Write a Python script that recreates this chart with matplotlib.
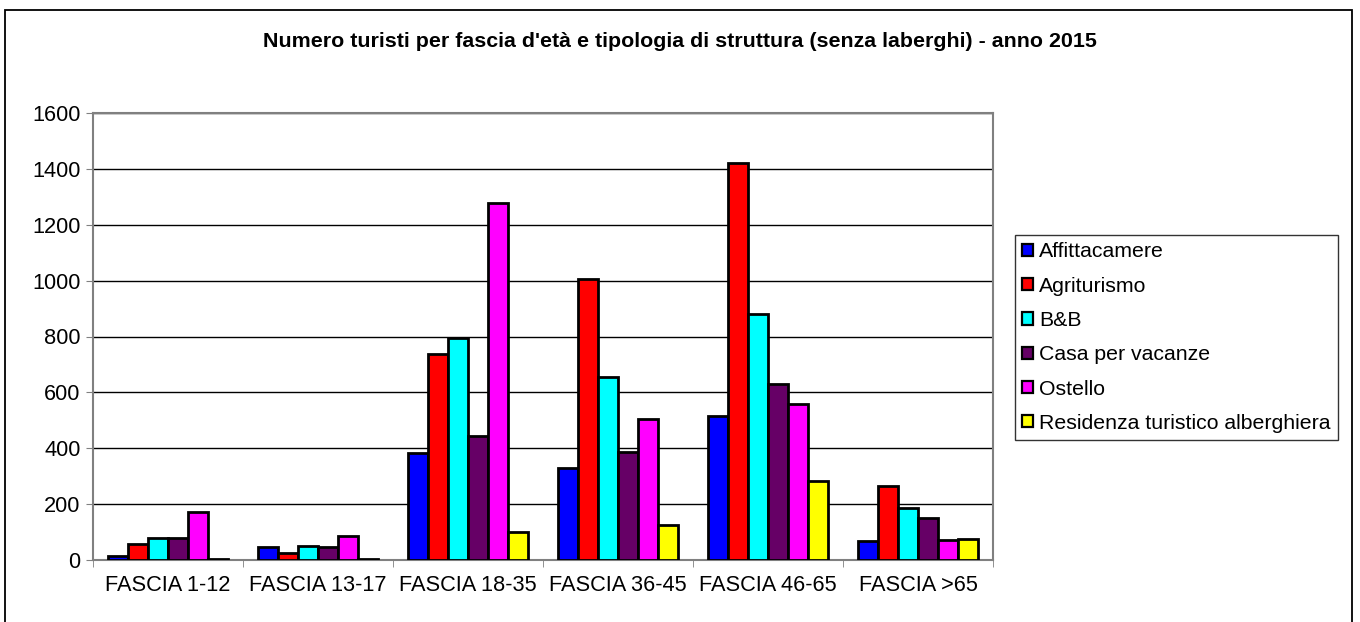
import numpy as np
import matplotlib.pyplot as plt
from matplotlib.patches import Rectangle

plt.rcParams['font.family'] = ['Liberation Sans', 'DejaVu Sans']

# Categories and series values
categories = ['FASCIA 1-12', 'FASCIA 13-17', 'FASCIA 18-35',
              'FASCIA 36-45', 'FASCIA 46-65', 'FASCIA >65']
series_names = ['Affittacamere', 'Agriturismo', 'B&B', 'Casa per vacanze',
                'Ostello', 'Residenza turistico alberghiera']
affittacamere = [14, 45, 384, 330, 515, 69]
agriturismo = [56, 24, 736, 1005, 1422, 265]
bb = [80, 50, 794, 654, 879, 186]
casa_vacanze = [77, 45, 444, 387, 629, 149]
ostello = [172, 87, 1277, 504, 558, 71]
residenza = [2, 3, 101, 127, 282, 76]
colors = ['#0000ff', '#ff0000', '#00ffff', '#660066', '#ff00ff', '#ffff00']

W, H = 1360, 622
fig = plt.figure(figsize=(W / 100, H / 100), dpi=100)

# outer chart border
fig.patches.append(Rectangle((5 / W, -0.01), 1347 / W, (H - 10) / H + 0.01,
                             transform=fig.transFigure, fill=False,
                             edgecolor='black', linewidth=1.3))

ax = fig.add_axes([93 / W, (H - 560) / H, 900 / W, 447 / H])

all_series = [affittacamere, agriturismo, bb, casa_vacanze, ostello, residenza]
x = np.arange(len(categories))
bw = 0.8 / len(all_series)
for i, (name, vals) in enumerate(zip(series_names, all_series)):
    ax.bar(x - 0.4 + bw * (i + 0.5), vals, width=bw, color=colors[i],
           edgecolor='black', linewidth=2, label=name, zorder=3)

ax.set_xlim(-0.5, len(categories) - 0.5)
ax.set_ylim(0, 1600)
ax.set_yticks(range(0, 1601, 200))
ax.yaxis.grid(True, color='black', linewidth=1, zorder=0)
ax.set_xticks(x)
ax.set_xticklabels(categories, fontsize=15.7)
ax.set_xticks(np.arange(-0.5, len(categories)), minor=True)
ax.tick_params(axis='x', which='major', length=0, pad=11)
ax.tick_params(axis='x', which='minor', length=5, direction='out', color='#808080')
ax.tick_params(axis='y', labelsize=15.7, length=5, direction='out', color='#808080', pad=4)
for s in ax.spines.values():
    s.set_color('#808080')
    s.set_linewidth(1.5)

fig.text(680 / W, 1 - 47 / H, "Numero turisti per fascia d'età e tipologia di struttura (senza laberghi) - anno 2015",
         ha='center', va='baseline', fontsize=15.4, fontweight='bold')

leg = ax.legend(loc='upper left', bbox_to_anchor=(1015 / W, 1 - 235 / H, 330 / W, 0.0),
                bbox_transform=fig.transFigure, fontsize=15.3, frameon=True,
                fancybox=False, edgecolor='black', handlelength=0.5,
                handleheight=0.5, handletextpad=0.3, labelspacing=0.72,
                borderpad=0.35, borderaxespad=0)
leg.get_frame().set_linewidth(1)
for h in leg.legend_handles:
    h.set_linewidth(1.6)

fig.savefig('out.png', dpi=100)
